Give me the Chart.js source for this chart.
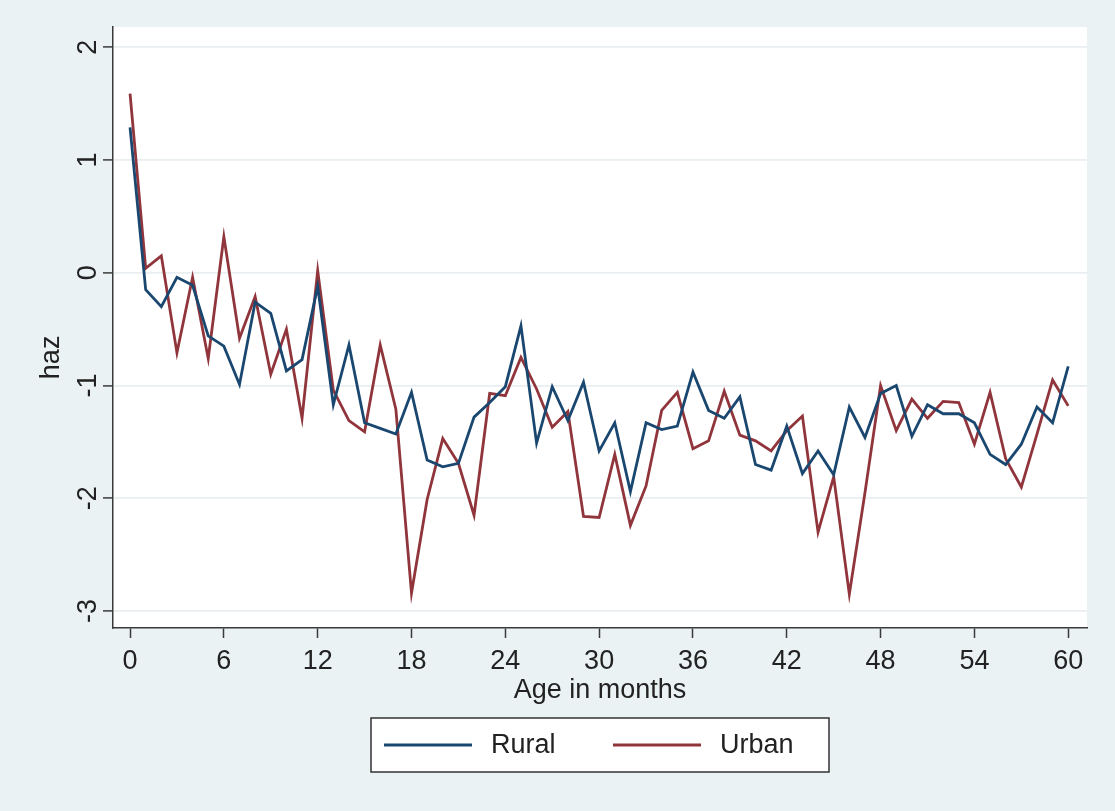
<!DOCTYPE html>
<html>
<head>
<meta charset="utf-8">
<script src="https://cdn.jsdelivr.net/npm/chart.js@4.4.1/dist/chart.umd.min.js"></script>
<style>
  html, body { margin: 0; padding: 0; background: #eaf2f3; }
  #wrap { width: 1115px; height: 811px; position: relative; }
</style>
</head>
<body>
<div id="wrap"><canvas id="c"></canvas></div>
<script>
// Age in months (0–60)
const months = [
  0, 1, 2, 3, 4, 5, 6, 7, 8, 9, 10, 11, 12, 13, 14, 15, 16, 17, 18, 19, 20,
  21, 22, 23, 24, 25, 26, 27, 28, 29, 30, 31, 32, 33, 34, 35, 36, 37, 38, 39, 40,
  41, 42, 43, 44, 45, 46, 47, 48, 49, 50, 51, 52, 53, 54, 55, 56, 57, 58, 59, 60
];

// Mean height-for-age z-score, rural children
const rural = [
  1.29, -0.15, -0.30, -0.04, -0.11, -0.56, -0.65, -0.99, -0.26, -0.36, -0.87,
  -0.77, -0.12, -1.17, -0.64, -1.33, -1.38, -1.43, -1.06, -1.66, -1.72,
  -1.69, -1.28, -1.15, -1.01, -0.47, -1.51, -1.01, -1.31, -0.97, -1.58,
  -1.33, -1.94, -1.33, -1.39, -1.36, -0.88, -1.22, -1.29, -1.10, -1.70,
  -1.75, -1.36, -1.78, -1.58, -1.79, -1.19, -1.46, -1.07, -1.00, -1.45,
  -1.17, -1.25, -1.25, -1.33, -1.61, -1.70, -1.52, -1.19, -1.33, -0.83
];

// Mean height-for-age z-score, urban children
const urban = [
  1.59, 0.04, 0.15, -0.71, -0.04, -0.76, 0.32, -0.58, -0.21, -0.90, -0.50,
  -1.29, 0.02, -1.04, -1.31, -1.41, -0.64, -1.21, -2.84, -2.01, -1.47,
  -1.69, -2.15, -1.07, -1.09, -0.75, -1.03, -1.37, -1.23, -2.16, -2.17,
  -1.61, -2.24, -1.89, -1.22, -1.06, -1.56, -1.49, -1.05, -1.44, -1.49,
  -1.58, -1.40, -1.27, -2.30, -1.81, -2.85, -1.95, -1.00, -1.40, -1.12,
  -1.29, -1.14, -1.15, -1.52, -1.06, -1.65, -1.90, -1.43, -0.95, -1.18
];

const xTicks = [0, 6, 12, 18, 24, 30, 36, 42, 48, 54, 60];
const yTicks = [-3, -2, -1, 0, 1, 2];

const FONT = "'Liberation Sans', Arial, Helvetica, sans-serif";
const TEXT_SIZE = 27;
const AXIS_COLOR = '#3a3a3a';
const GRID_COLOR = '#e9eef0';

// Outer light-blue region and white plot region
const backdrop = {
  id: 'backdrop',
  beforeDraw(chart) {
    const { ctx, chartArea: a } = chart;
    ctx.save();
    ctx.fillStyle = '#eaf2f3';
    ctx.fillRect(0, 0, chart.width, chart.height);
    ctx.fillStyle = '#ffffff';
    ctx.fillRect(a.left, a.top, a.right - a.left, a.bottom - a.top);
    ctx.restore();
  }
};

// Vertical (rotated) y tick labels and the y-axis title
const yLabels = {
  id: 'yLabels',
  afterDraw(chart) {
    const { ctx } = chart;
    const s = chart.scales.y;
    ctx.save();
    ctx.fillStyle = '#222';
    ctx.font = `${TEXT_SIZE}px ${FONT}`;
    ctx.textAlign = 'center';
    ctx.textBaseline = 'middle';
    s.ticks.forEach(t => {
      const y = s.getPixelForValue(t.value);
      ctx.save();
      ctx.translate(s.right - 25, y);
      ctx.rotate(-Math.PI / 2);
      ctx.fillText(String(t.value), 0, 1);
      ctx.restore();
    });
    ctx.save();
    ctx.translate(52, s.getPixelForValue(-0.75));
    ctx.rotate(-Math.PI / 2);
    ctx.fillText('haz', 0, 0);
    ctx.restore();
    ctx.restore();
  }
};

// Framed legend below the axis title
const boxLegend = {
  id: 'boxLegend',
  afterDraw(chart) {
    const { ctx, chartArea: a } = chart;
    const cx = (a.left + a.right) / 2;
    const w = 458, h = 54, top = 718;
    const left = cx - w / 2;
    ctx.save();
    ctx.fillStyle = '#ffffff';
    ctx.fillRect(left, top, w, h);
    ctx.strokeStyle = '#333';
    ctx.lineWidth = 1.5;
    ctx.strokeRect(left, top, w, h);
    const items = [
      { x: left + 13, ds: chart.data.datasets[0] },
      { x: left + 242, ds: chart.data.datasets[1] }
    ];
    ctx.font = `${TEXT_SIZE}px ${FONT}`;
    ctx.textBaseline = 'middle';
    ctx.textAlign = 'left';
    items.forEach(it => {
      const y = top + h / 2;
      ctx.strokeStyle = it.ds.borderColor;
      ctx.lineWidth = it.ds.borderWidth;
      ctx.beginPath();
      ctx.moveTo(it.x, y);
      ctx.lineTo(it.x + 88, y);
      ctx.stroke();
      ctx.fillStyle = '#222';
      ctx.fillText(it.ds.label, it.x + 107, y + 1);
    });
    ctx.restore();
  }
};

new Chart(document.getElementById('c'), {
  type: 'line',
  data: {
    labels: months,
    datasets: [
      {
        label: 'Rural',
        data: months.map((m, i) => ({ x: m, y: rural[i] })),
        borderColor: '#1a476f',
        borderWidth: 2.8,
        pointRadius: 0,
        tension: 0,
        fill: false
      },
      {
        label: 'Urban',
        data: months.map((m, i) => ({ x: m, y: urban[i] })),
        borderColor: '#90353b',
        borderWidth: 2.8,
        pointRadius: 0,
        tension: 0,
        fill: false
      }
    ]
  },
  options: {
    responsive: true,
    maintainAspectRatio: false,
    devicePixelRatio: 1,
    animation: false,
    layout: { padding: { left: 0, top: 27, right: 28, bottom: 0 } },
    plugins: {
      legend: { display: false },
      tooltip: { enabled: false }
    },
    scales: {
      x: {
        type: 'linear',
        min: -1.09,
        max: 61.2,
        afterBuildTicks(scale) { scale.ticks = xTicks.map(v => ({ value: v })); },
        afterFit(scale) { scale.height = 183; },
        ticks: {
          color: '#222',
          font: { family: FONT, size: TEXT_SIZE },
          padding: 7,
          maxRotation: 0,
          autoSkip: false
        },
        grid: {
          display: true,
          drawOnChartArea: false,
          drawTicks: true,
          tickLength: 10,
          tickColor: AXIS_COLOR,
          tickWidth: 1.5
        },
        border: { display: true, color: AXIS_COLOR, width: 1.5 },
        title: {
          display: true,
          text: 'Age in months',
          color: '#222',
          font: { family: FONT, size: TEXT_SIZE },
          padding: { top: 0, bottom: 104 }
        }
      },
      y: {
        type: 'linear',
        min: -3.15,
        max: 2.18,
        afterBuildTicks(scale) { scale.ticks = yTicks.map(v => ({ value: v })); },
        afterFit(scale) { scale.width = 113; },
        ticks: { display: false },
        grid: {
          display: true,
          color: GRID_COLOR,
          lineWidth: 1.8,
          drawTicks: true,
          tickLength: 10,
          tickColor: AXIS_COLOR,
          tickWidth: 1.5
        },
        border: { display: true, color: AXIS_COLOR, width: 1.5 },
        title: { display: false }
      }
    }
  },
  plugins: [backdrop, yLabels, boxLegend]
});
</script>
</body>
</html>
